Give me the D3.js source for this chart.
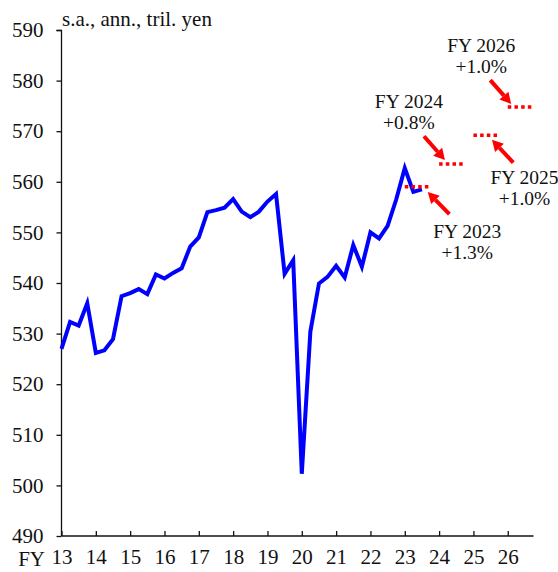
<!DOCTYPE html>
<html>
<head>
<meta charset="utf-8">
<script src="https://cdn.jsdelivr.net/npm/d3@7"></script>
<style>
  body { margin: 0; background: #fff; }
</style>
</head>
<body>
<svg id="chart" width="558" height="572"></svg>
<script>
// quarterly real GDP, FY2013 Q1 .. FY2023 Q3 (s.a., ann., tril. yen)
var gdp = [
    527.0, 532.3, 531.6, 536.0,
    526.2, 526.7, 528.9, 537.4,
    538.0, 538.8, 537.8, 541.7,
    540.9, 542.0, 542.9, 547.2,
    549.0, 554.0, 554.4, 554.9,
    556.6, 554.1, 553.0, 554.1,
    556.1, 557.6, 541.8, 544.5,
    502.3, 530.4, 539.9, 541.2,
    543.4, 541.1, 547.5, 543.2,
    550.0, 548.8, 551.3, 556.5,
    562.7, 558.0, 558.5
];
var firstYear = 13;

// fiscal-year forecast levels
var fcYears = [23, 24, 25, 26];
var fcLevels = [559.0, 563.5, 569.2, 574.8];
var fcGrowth = ["+1.3%", "+0.8%", "+1.0%", "+1.0%"];

// label anchor (year, value) and arrow tail/head (year, value)
var labelPos = [[24.82, 548.8], [23.12, 574.6], [26.49, 559.5], [25.23, 585.6]];
var arrowFrom = [[24.30, 553.6], [23.56, 569.0], [26.16, 563.8], [25.49, 580.1]];
var arrowTo = [[23.67, 558.0], [24.17, 564.3], [25.54, 568.3], [26.10, 575.4]];

var xTicks = d3.range(13, 27);
var yTicks = d3.range(490, 591, 10);

var serif = "'Liberation Serif', 'Times New Roman', Times, 'DejaVu Serif', serif";

var svg = d3.select("#chart");
var x = d3.scaleLinear().domain([13, 26.75]).range([61.5, 533.5]);
var y = d3.scaleLinear().domain([490, 590]).range([536, 30]);

// axes
svg.append("g")
    .attr("transform", "translate(61.5,0)")
    .call(d3.axisLeft(y).tickValues(yTicks).tickSize(5).tickPadding(13))
    .call(function(g){
        g.attr("font-family", serif).attr("font-size", 21);
        g.select(".domain").attr("stroke", "#111").attr("stroke-width", 1.3).attr("d", "M-5,30.5H0V536");
        g.selectAll(".tick line").attr("stroke", "#111").attr("stroke-width", 1.3);
        g.selectAll(".tick text").attr("fill", "#111");
    });

svg.append("g")
    .attr("transform", "translate(0,536)")
    .call(d3.axisBottom(x).tickValues(xTicks).tickSize(-5).tickPadding(13).tickFormat(d3.format("d")))
    .call(function(g){
        g.attr("font-family", serif).attr("font-size", 21);
        g.select(".domain").attr("stroke", "#111").attr("stroke-width", 1.3).attr("d", "M61.5,0H533.5");
        g.selectAll(".tick line").attr("stroke", "#111").attr("stroke-width", 1.3);
        g.selectAll(".tick text").attr("fill", "#111");
    });

svg.append("text")
    .attr("x", 45).attr("y", 566)
    .attr("text-anchor", "end")
    .attr("font-family", serif)
    .attr("font-size", 21)
    .attr("fill", "#111")
    .text("FY");

svg.append("text")
    .attr("x", 62).attr("y", 26)
    .attr("font-family", serif)
    .attr("font-size", 21)
    .attr("fill", "#111")
    .text("s.a., ann., tril. yen");

// actual series
var line = d3.line()
    .x(function(d, i){ return x(firstYear + i * 0.25); })
    .y(function(d){ return y(d); });

svg.append("path")
    .attr("d", line(gdp))
    .attr("fill", "none")
    .attr("stroke", "#0000ff")
    .attr("stroke-width", 4)
    .attr("stroke-linejoin", "miter");

// forecast levels
fcYears.forEach(function(yr, i){
    svg.append("line")
        .attr("x1", x(yr)).attr("x2", x(yr + 0.75))
        .attr("y1", y(fcLevels[i])).attr("y2", y(fcLevels[i]))
        .attr("stroke", "#ff0000")
        .attr("stroke-width", 3.5)
        .attr("stroke-dasharray", "3.5,3.2");

    var lx = x(labelPos[i][0]), ly = y(labelPos[i][1]);
    svg.append("text")
        .attr("x", lx).attr("y", ly)
        .attr("text-anchor", "middle")
        .attr("font-family", serif)
        .attr("font-size", 19.5)
        .attr("fill", "#111")
        .text("FY 20" + yr);
    svg.append("text")
        .attr("x", lx).attr("y", ly + 21)
        .attr("text-anchor", "middle")
        .attr("font-family", serif)
        .attr("font-size", 19.5)
        .attr("fill", "#111")
        .text(fcGrowth[i]);

    // arrow
    var x0 = x(arrowFrom[i][0]), y0 = y(arrowFrom[i][1]);
    var x1 = x(arrowTo[i][0]), y1 = y(arrowTo[i][1]);
    var a = Math.atan2(y1 - y0, x1 - x0);
    var hl = 11, hw = 6;
    var bx = x1 - hl * Math.cos(a), by = y1 - hl * Math.sin(a);
    svg.append("line")
        .attr("x1", x0).attr("y1", y0)
        .attr("x2", bx).attr("y2", by)
        .attr("stroke", "#ff0000")
        .attr("stroke-width", 4);
    var pts = [
        [x1, y1],
        [bx + hw * Math.sin(a), by - hw * Math.cos(a)],
        [bx - hw * Math.sin(a), by + hw * Math.cos(a)]
    ];
    svg.append("polygon")
        .attr("points", pts.map(function(p){ return p.join(","); }).join(" "))
        .attr("fill", "#ff0000");
});
</script>
</body>
</html>
